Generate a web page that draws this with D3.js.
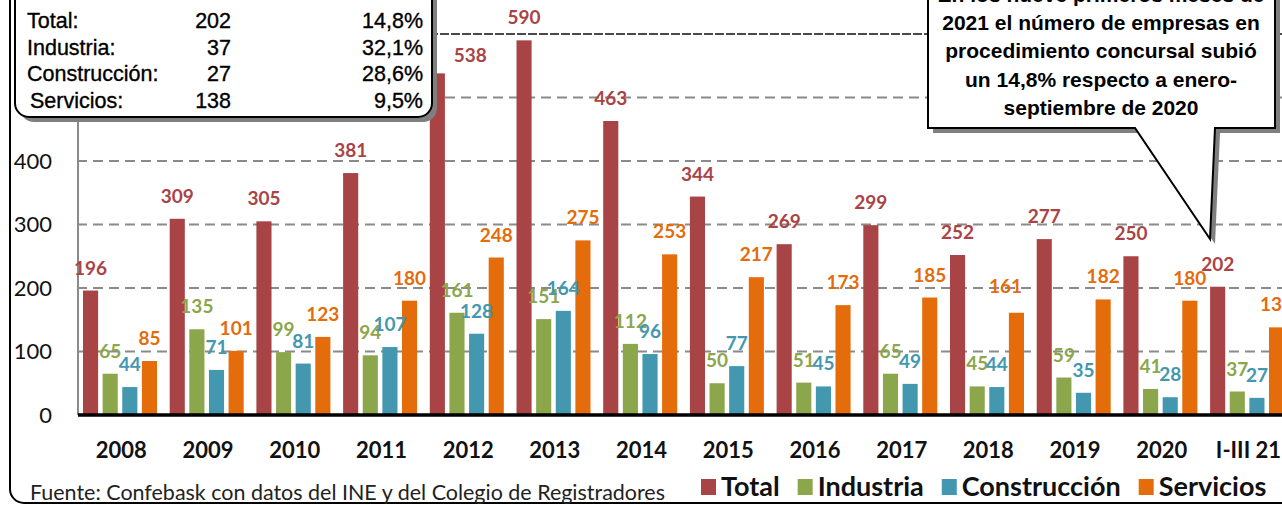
<!DOCTYPE html>
<html>
<head>
<meta charset="utf-8">
<script src="https://cdn.jsdelivr.net/npm/d3@7"></script>
<style>
  html, body { margin: 0; padding: 0; background: #fff; }
  svg { display: block; }
</style>
</head>
<body>
<script>
// Data
const categories = ["2008", "2009", "2010", "2011", "2012", "2013", "2014",
  "2015", "2016", "2017", "2018", "2019", "2020", "I-III 21"];
const seriesNames = ["Total", "Industria", "Construcción", "Servicios"];
const total = [196, 309, 305, 381, 538, 590, 463, 344, 269, 299, 252, 277, 250, 202];
const industria = [65, 135, 99, 94, 161, 151, 112, 50, 51, 65, 45, 59, 41, 37];
const construccion = [44, 71, 81, 107, 128, 164, 96, 77, 45, 49, 44, 35, 28, 27];
const servicios = [85, 101, 123, 180, 248, 275, 253, 217, 173, 185, 161, 182, 180, 138];
const yTicks = [0, 100, 200, 300, 400, 500, 600];
const tableLabels = ["Total:", "Industria:", "Construcción:", "Servicios:"];
const tableChanges = ["14,8%", "32,1%", "28,6%", "9,5%"];
const calloutLines = [
  "En los nueve primeros meses de",
  "2021 el número de empresas en",
  "procedimiento concursal subió",
  "un 14,8% respecto a enero-",
  "septiembre de 2020"
];
const sourceNote = "Fuente: Confebask con datos del INE y del Colegio de Registradores";

const seriesValues = [total, industria, construccion, servicios];
const colors = ["#A94446", "#8BA64B", "#4398B0", "#E46C0A"];

// Label nudges where the original layout moved a label off its bar (px)
const labelNudge = { "0-4": [33, 5], "3-10": [-11, -4] };

const W = 1282, H = 505;
const LABEL_FONT = "Lato, 'Open Sans', sans-serif";
const BOX_FONT = "'Liberation Sans', Arial, sans-serif";
const BOX_BOTTOM = 117;

const svg = d3.select("body").append("svg")
  .attr("width", W).attr("height", H)
  .attr("viewBox", `0 0 ${W} ${H}`);

// Scales
const y = d3.scaleLinear().domain([0, 600]).range([415, 34]);
const x0 = d3.scaleBand().domain(categories).range([78, 78 + 14 * 86.7]);
const x1 = d3.scaleBand().domain(seriesNames).range([5, 79]).paddingInner(0.23);

// Outer chart frame (rounded corner at the bottom left)
svg.append("rect")
  .attr("x", 10).attr("y", -20)
  .attr("width", 1400).attr("height", 523)
  .attr("rx", 14)
  .attr("fill", "none").attr("stroke", "#000").attr("stroke-width", 2);

// Gridlines
svg.append("g").selectAll("line")
  .data(yTicks.filter(d => d > 0))
  .join("line")
  .attr("x1", 77).attr("x2", W)
  .attr("y1", d => y(d)).attr("y2", d => y(d))
  .attr("stroke", d => d === 600 ? "#4a4a4a" : "#8a8a8a")
  .attr("stroke-width", 2)
  .attr("stroke-dasharray", d => d === 600 ? "9,2" : "10,6");

// Plot-area left edge
svg.append("line")
  .attr("x1", 78).attr("x2", 78)
  .attr("y1", y(600)).attr("y2", y(0))
  .attr("stroke", "#8a8a8a").attr("stroke-width", 2);

// Y tick labels (500 and 600 sit under the summary box, so they are not drawn)
svg.append("g").selectAll("text")
  .data(yTicks.filter(d => y(d) > BOX_BOTTOM + 10))
  .join("text")
  .attr("x", 52).attr("y", d => y(d))
  .attr("dy", "0.36em")
  .attr("text-anchor", "end")
  .attr("font-family", LABEL_FONT)
  .attr("font-size", 22)
  .attr("fill", "#111")
  .text(d => d);

// Bars
const groups = svg.append("g").selectAll("g")
  .data(categories)
  .join("g")
  .attr("transform", d => `translate(${x0(d)},0)`);

groups.selectAll("rect")
  .data((c, i) => seriesNames.map((s, k) => ({ s, k, v: seriesValues[k][i] })))
  .join("rect")
  .attr("x", d => x1(d.s))
  .attr("y", d => y(d.v))
  .attr("width", x1.bandwidth())
  .attr("height", d => y(0) - y(d.v))
  .attr("fill", d => colors[d.k]);

// Value labels
groups.selectAll("text")
  .data((c, i) => seriesNames.map((s, k) => ({ s, k, i, v: seriesValues[k][i] })))
  .join("text")
  .attr("x", d => x1(d.s) + x1.bandwidth() / 2 + (labelNudge[`${d.k}-${d.i}`] || [0, 0])[0])
  .attr("y", d => y(d.v) - 16 + (labelNudge[`${d.k}-${d.i}`] || [0, 0])[1])
  .attr("text-anchor", "middle")
  .attr("font-family", LABEL_FONT)
  .attr("font-weight", 700)
  .attr("font-size", 19)
  .attr("fill", d => colors[d.k])
  .text(d => d.v);

// Baseline axis
svg.append("line")
  .attr("x1", 78).attr("x2", W)
  .attr("y1", y(0)).attr("y2", y(0))
  .attr("stroke", "#000").attr("stroke-width", 3.5);

// Category labels
svg.append("g").selectAll("text")
  .data(categories)
  .join("text")
  .attr("x", d => x0(d) + x0.bandwidth() / 2)
  .attr("y", 457.5)
  .attr("text-anchor", "middle")
  .attr("font-family", LABEL_FONT)
  .attr("font-weight", 700)
  .attr("font-size", 22)
  .attr("fill", "#111")
  .text(d => d);

// Summary box, top left, with a hard grey shadow
const box = svg.append("g");
box.append("rect")
  .attr("x", 20).attr("y", -25).attr("width", 417).attr("height", BOX_BOTTOM + 30)
  .attr("rx", 14).attr("fill", "#7f7f7f");
box.append("rect")
  .attr("x", 15).attr("y", -30).attr("width", 417).attr("height", BOX_BOTTOM + 30)
  .attr("rx", 14).attr("fill", "#fff")
  .attr("stroke", "#000").attr("stroke-width", 2);

const rows = box.selectAll("g.row")
  .data(tableLabels)
  .join("g")
  .attr("class", "row")
  .attr("transform", (d, i) => `translate(0,${28 + i * 26.5})`)
  .attr("font-family", BOX_FONT)
  .attr("font-size", 21.5)
  .attr("fill", "#000")
  .attr("stroke", "#000")
  .attr("stroke-width", 0.35);
rows.append("text").attr("x", (d, i) => i === 3 ? 30 : 27).text(d => d);
rows.append("text").attr("x", 231).attr("text-anchor", "end")
  .text((d, i) => seriesValues[i][seriesValues[i].length - 1]);
rows.append("text").attr("x", 423).attr("text-anchor", "end")
  .text((d, i) => tableChanges[i]);

// Callout, top right
const callout = svg.append("g");
const calloutPts = [[928, -20], [928, 128], [1135, 128], [1210, 239], [1215, 128], [1275, 128], [1275, -20]];
callout.append("polygon")
  .attr("points", calloutPts.map(p => [p[0] + 5, p[1] + 5].join(",")).join(" "))
  .attr("fill", "#7f7f7f");
callout.append("polygon")
  .attr("points", calloutPts.map(p => p.join(",")).join(" "))
  .attr("fill", "#fff")
  .attr("stroke", "#000").attr("stroke-width", 2)
  .attr("stroke-linejoin", "miter");
callout.selectAll("text")
  .data(calloutLines)
  .join("text")
  .attr("x", 1101)
  .attr("y", (d, i) => 1.5 + i * 28.4)
  .attr("text-anchor", "middle")
  .attr("font-family", BOX_FONT)
  .attr("font-weight", 700)
  .attr("font-size", 21)
  .attr("fill", "#000")
  .text(d => d);

// Source note
svg.append("text")
  .attr("x", 30).attr("y", 500)
  .attr("font-family", LABEL_FONT)
  .attr("font-size", 20.5)
  .attr("textLength", 635)
  .attr("lengthAdjust", "spacingAndGlyphs")
  .attr("fill", "#222")
  .text(sourceNote);

// Legend, laid out left to right from measured text widths
const legend = svg.append("g");
let lx = 701;
seriesNames.forEach((name, k) => {
  legend.append("rect")
    .attr("x", lx).attr("y", 479)
    .attr("width", 15).attr("height", 16)
    .attr("fill", colors[k]);
  const t = legend.append("text")
    .attr("x", lx + 20).attr("y", 495.5)
    .attr("font-family", LABEL_FONT)
    .attr("font-weight", 700)
    .attr("font-size", 27)
    .attr("fill", "#111")
    .text(name);
  lx += 20 + t.node().getComputedTextLength() + 18;
});
</script>
</body>
</html>
